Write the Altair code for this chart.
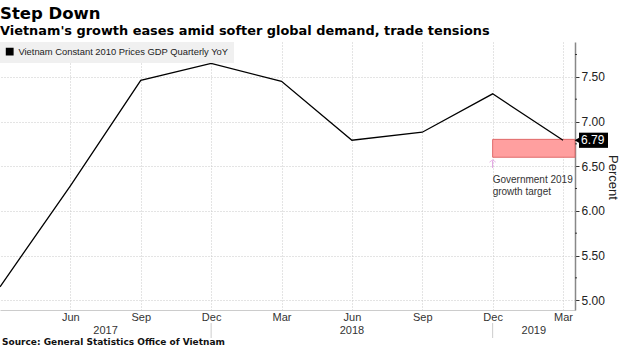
import altair as alt
import pandas as pd

# ---- data ----
quarters = [0, 1, 2, 3, 4, 5, 6, 7, 8]
months = ["Mar", "Jun", "Sep", "Dec", "Mar", "Jun", "Sep", "Dec", "Mar"]
gdp = [5.15, 6.28, 7.46, 7.65, 7.45, 6.79, 6.88, 7.31, 6.79]
series_name = "Vietnam Constant 2010 Prices GDP Quarterly YoY"
years = ["2017", "2018", "2019"]
year_bounds = [0, 3, 7, 8.17]  # quarter index boundaries of each year
target_lo, target_hi = 6.6, 6.8
target_start = 7
target_text = ["Government 2019", "growth target"]
y_ticks = [5.0, 5.5, 6.0, 6.5, 7.0, 7.5]
y_minor = [5.25, 5.75, 6.25, 6.75, 7.25, 7.75]

X_MAX = 8.17
Y_DOM = [4.89, 7.89]
W, H = 575, 268

df = pd.DataFrame({"q": quarters, "v": gdp, "series": series_name})
label_expr = "[" + ",".join("'%s'" % m for m in months) + "][datum.value]"

xs = alt.Scale(domain=[0, X_MAX], nice=False, zero=False)
ys = alt.Scale(domain=Y_DOM, nice=False, zero=False)

x_axis = alt.Axis(values=quarters[1:], labelExpr=label_expr, grid=True,
                  gridDash=[1, 2], gridColor="#c8c8c8", ticks=False,
                  domain=True, domainColor="#cccccc", labelFontSize=11,
                  labelColor="#333333", labelPadding=1, title=None,
                  labelFont="Liberation Sans")
y_axis = alt.Axis(orient="right", values=y_ticks, format=".2f", grid=True,
                  gridDash=[1, 2], gridColor="#c8c8c8", tickSize=4,
                  tickColor="#333333", domainColor="#888888", domainWidth=1.5,
                  labelFontSize=12, labelColor="#222222", labelPadding=2,
                  title="Percent", titleFontSize=13, titleFontWeight="normal",
                  titleColor="#222222", titleAngle=90, titleX=37, titleY=135,
                  titleAlign="center", titleBaseline="middle",
                  labelFont="Liberation Sans", titleFont="Liberation Sans")

line = alt.Chart(df).mark_line(color="black", strokeWidth=1.3).encode(
    x=alt.X("q:Q", scale=xs, axis=x_axis),
    y=alt.Y("v:Q", scale=ys, axis=y_axis),
    color=alt.Color("series:N", scale=alt.Scale(range=["black"]),
                    legend=alt.Legend(title=None, orient="top-left", offset=0,
                                      padding=5, fillColor="#f0f0f0",
                                      symbolType="square", symbolSize=40,
                                      symbolFillColor="black",
                                      symbolStrokeColor="black",
                                      labelFontSize=9.4, labelColor="#222222",
                                      labelFont="Liberation Sans",
                                      labelLimit=400, symbolOffset=0)),
)

band_df = pd.DataFrame({"q0": [target_start], "q1": [X_MAX],
                        "lo": [target_lo], "hi": [target_hi]})
band = alt.Chart(band_df).mark_rect(fill="#ff9f9f", stroke="#e06a6a",
                                    strokeWidth=1).encode(
    x=alt.X("q0:Q", scale=xs), x2="q1:Q",
    y=alt.Y("lo:Q", scale=ys), y2="hi:Q")

arrow_df = pd.DataFrame({"q": [target_start], "a0": [6.48], "a1": [6.565]})
arrow = alt.Chart(arrow_df).mark_rule(color="#e09be0", strokeWidth=1).encode(
    x=alt.X("q:Q", scale=xs), y=alt.Y("a0:Q", scale=ys), y2="a1:Q")
arrow_head = alt.Chart(arrow_df).mark_point(
    shape="M-1,0.6L0,-0.2L1,0.6", size=40, color="#e09be0", strokeWidth=1,
    filled=False).encode(x=alt.X("q:Q", scale=xs), y=alt.Y("a1:Q", scale=ys))

ann_df = pd.DataFrame({"q": [target_start] * 2, "t": target_text,
                       "yv": [6.345, 6.215]})
ann = alt.Chart(ann_df).mark_text(align="left", baseline="middle", dx=0,
                                  fontSize=10, color="#333333",
                                  font="Liberation Sans").encode(
    x=alt.X("q:Q", scale=xs), y=alt.Y("yv:Q", scale=ys), text="t:N")

last_df = df.tail(1).copy()
last_df["lo"] = last_df["v"] - 0.085
last_df["hi"] = last_df["v"] + 0.085
last_df["lbl"] = last_df["v"].map(lambda v: "%.2f" % v)
last_box = alt.Chart(last_df).mark_rect(color="black").encode(
    x=alt.value(W + 4), x2=alt.value(W + 33),
    y=alt.Y("lo:Q", scale=ys), y2="hi:Q")
last_tip = alt.Chart(last_df).mark_point(shape="triangle-left", filled=True,
                                         color="black", size=60, opacity=1).encode(
    x=alt.value(W + 3), y=alt.Y("v:Q", scale=ys))
last_txt = alt.Chart(last_df).mark_text(color="white", fontSize=12,
                                        align="left", baseline="middle",
                                        font="Liberation Sans").encode(
    x=alt.value(W + 6), y=alt.Y("v:Q", scale=ys), text="lbl:N")

minor_df = pd.DataFrame({"m": y_minor})
minor = alt.Chart(minor_df).mark_rule(color="#333333", strokeWidth=1).encode(
    x=alt.value(W), x2=alt.value(W + 2), y=alt.Y("m:Q", scale=ys))

yr_df = pd.DataFrame({"yr": years,
                      "c": [(year_bounds[i] + year_bounds[i + 1]) / 2 for i in range(3)]})
yr = alt.Chart(yr_df).mark_text(fontSize=11, color="#333333", baseline="middle",
                                font="Liberation Sans").encode(
    x=alt.X("c:Q", scale=xs), y=alt.value(H + 21), text="yr:N")

sep_df = pd.DataFrame({"b": year_bounds[1:3]})
sep = alt.Chart(sep_df).mark_rule(color="#cccccc", strokeWidth=1).encode(
    x=alt.X("b:Q", scale=xs), y=alt.value(H + 13), y2=alt.value(H + 28))

src = alt.Chart(pd.DataFrame({"s": ["Source: General Statistics Office of Vietnam"]})).mark_text(
    align="left", baseline="middle", fontSize=9, fontWeight="bold",
    color="#111111", font="DejaVu Sans").encode(
    x=alt.value(2), y=alt.value(H + 32), text="s:N")

chart = alt.layer(band, line, arrow, arrow_head, ann, minor, last_tip, last_box,
                  last_txt, yr, sep, src).properties(
    width=W, height=H,
    title=alt.Title("Step Down",
                    subtitle="Vietnam's growth eases amid softer global demand, trade tensions",
                    anchor="start", frame="group", offset=4,
                    fontSize=16.5, font="DejaVu Sans", fontWeight="bold",
                    subtitleFontSize=12.9, subtitleFont="DejaVu Sans",
                    subtitleFontWeight="bold", subtitleColor="#000000",
                    subtitlePadding=3, color="#000000"),
    autosize=alt.AutoSizeParams(type="none"),
    padding={"left": 0, "top": 42, "right": 45, "bottom": 38},
).configure_view(stroke=None)

chart.save("out.html", embed_options={"renderer": "svg", "actions": False})
